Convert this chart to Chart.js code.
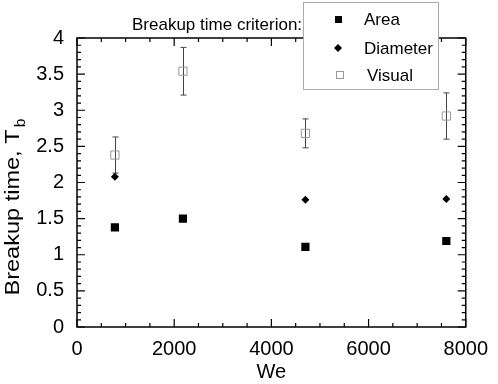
<!DOCTYPE html>
<html><head><meta charset="utf-8">
<script src="https://cdn.jsdelivr.net/npm/chart.js@4/dist/chart.umd.min.js"></script>
<style>html,body{margin:0;padding:0;background:#fff}#wrap{width:498px;height:384px}</style>
</head><body><div id="wrap"><canvas id="c" width="498" height="384"></canvas></div>
<script>
const weValues = [780, 2180, 4700, 7600];
const areaValues = [1.38, 1.50, 1.11, 1.19];
const diameterWe = [780, 4700, 7600];
const diameterValues = [2.08, 1.76, 1.77];
const visualValues = [2.38, 3.54, 2.68, 2.92];
const visualErrors = [0.25, 0.33, 0.20, 0.32];
const xTicks = [0, 2000, 4000, 6000, 8000];
const yTicks = [0, 0.5, 1, 1.5, 2, 2.5, 3, 3.5, 4];
const seriesNames = ['Area', 'Diameter', 'Visual'];
const titleText = 'Breakup time criterion:';
const FONT = '"Liberation Sans", Arial, sans-serif';

const errPlugin = {
  id: 'errbars',
  beforeDatasetsDraw(chart) {
    const ctx = chart.ctx, xs = chart.scales.x, ys = chart.scales.y;
    ctx.save();
    ctx.strokeStyle = '#444'; ctx.lineWidth = 1;
    weValues.forEach((w, i) => {
      const px = Math.round(xs.getPixelForValue(w)) + 0.5;
      const t = ys.getPixelForValue(visualValues[i] + visualErrors[i]);
      const b = ys.getPixelForValue(visualValues[i] - visualErrors[i]);
      ctx.beginPath();
      ctx.moveTo(px, t); ctx.lineTo(px, b);
      ctx.moveTo(px - 3, t); ctx.lineTo(px + 3, t);
      ctx.moveTo(px - 3, b); ctx.lineTo(px + 3, b);
      ctx.stroke();
    });
    ctx.restore();
  }
};

const framePlugin = {
  id: 'frame',
  afterDatasetsDraw(chart) {
    const ctx = chart.ctx, a = chart.chartArea, xs = chart.scales.x, ys = chart.scales.y;
    ctx.save();
    ctx.strokeStyle = '#000'; ctx.lineWidth = 1.5;
    ctx.strokeRect(a.left, a.top, a.right - a.left, a.bottom - a.top);
    ctx.lineWidth = 1.2;
    ctx.beginPath();
    for (let v = 0; v <= 8000; v += 500) {
      const p = xs.getPixelForValue(v);
      const L = (v % 2000 === 0) ? 8 : 4;
      ctx.moveTo(p, a.bottom); ctx.lineTo(p, a.bottom - L);
      ctx.moveTo(p, a.top); ctx.lineTo(p, a.top + L);
    }
    for (let k = 0; k <= 40; k++) {
      const v = k / 10;
      const p = ys.getPixelForValue(v);
      const L = (k % 5 === 0) ? 8 : 4;
      ctx.moveTo(a.left, p); ctx.lineTo(a.left + L, p);
      ctx.moveTo(a.right, p); ctx.lineTo(a.right - L, p);
    }
    ctx.stroke();

    // y axis title with subscript
    ctx.fillStyle = '#000';
    ctx.save();
    ctx.translate(18.5, 207);
    ctx.rotate(-Math.PI / 2);
    ctx.scale(1.12, 1);
    ctx.textBaseline = 'alphabetic';
    const main = 'Breakup time, T';
    ctx.font = '21px ' + FONT;
    const w1 = ctx.measureText(main).width;
    ctx.font = '14px ' + FONT;
    const w2 = ctx.measureText('b').width;
    const start = -(w1 + w2 + 2) / 2;
    ctx.font = '21px ' + FONT;
    ctx.textAlign = 'left';
    ctx.fillText(main, start, 0);
    ctx.font = '14px ' + FONT;
    ctx.fillText('b', start + w1 + 2, 6);
    ctx.restore();

    // title
    ctx.font = '17px ' + FONT;
    ctx.textAlign = 'left'; ctx.textBaseline = 'middle';
    ctx.fillText(titleText, 132, 25);

    // legend box
    ctx.fillStyle = '#fff';
    ctx.fillRect(303, 2, 136, 88);
    ctx.strokeStyle = '#aaa'; ctx.lineWidth = 1;
    ctx.strokeRect(303.5, 2.5, 135, 87);
    const rows = [19, 48, 75];
    ctx.fillStyle = '#000';
    ctx.fillRect(335, 16, 7, 7);
    ctx.beginPath();
    ctx.moveTo(338, 44); ctx.lineTo(342, 48); ctx.lineTo(338, 52); ctx.lineTo(334, 48); ctx.closePath();
    ctx.fill();
    ctx.strokeStyle = '#999'; ctx.lineWidth = 1;
    ctx.strokeRect(336.5, 71.5, 7, 7);
    ctx.fillStyle = '#000';
    ctx.font = '17px ' + FONT;
    ctx.textBaseline = 'middle';
    ctx.fillText(seriesNames[0], 364, rows[0] + 1);
    ctx.fillText(seriesNames[1], 364, rows[1] + 1);
    ctx.fillText(seriesNames[2], 367, rows[2] + 1);
    ctx.restore();
  }
};

new Chart(document.getElementById('c'), {
  type: 'scatter',
  data: {
    datasets: [
      { label: seriesNames[0], data: weValues.map((x, i) => ({x, y: areaValues[i]})), pointStyle: 'rect', pointRadius: 5.8, backgroundColor: '#000', borderColor: '#000', borderWidth: 0 },
      { label: seriesNames[1], data: diameterWe.map((x, i) => ({x, y: diameterValues[i]})), pointStyle: 'rectRot', pointRadius: 4, backgroundColor: '#000', borderColor: '#000', borderWidth: 0 },
      { label: seriesNames[2], data: weValues.map((x, i) => ({x, y: visualValues[i]})), pointStyle: 'rect', pointRadius: 5.8, backgroundColor: 'rgba(255,255,255,0)', borderColor: '#999', borderWidth: 1 }
    ]
  },
  options: {
    responsive: false, animation: false, devicePixelRatio: 1,
    layout: { padding: { top: 38, right: 25, left: 0, bottom: 0 } },
    plugins: { legend: { display: false }, tooltip: { enabled: false } },
    scales: {
      x: {
        type: 'linear', min: 0, max: 8000,
        afterBuildTicks: s => { s.ticks = xTicks.map(v => ({value: v})); },
        afterFit: s => { s.height = 57; },
        grid: { display: false, drawTicks: false },
        border: { display: false },
        ticks: { color: '#000', font: { family: FONT, size: 20 }, padding: 10, maxRotation: 0, callback: v => String(v) },
        title: { display: true, text: 'We', color: '#000', font: { family: FONT, size: 20 }, padding: { top: 3, bottom: 0 } }
      },
      y: {
        type: 'linear', min: 0, max: 4,
        afterBuildTicks: s => { s.ticks = yTicks.map(v => ({value: v})); },
        afterFit: s => { s.width = 77; },
        grid: { display: false, drawTicks: false },
        border: { display: false },
        ticks: { color: '#000', font: { family: FONT, size: 20 }, padding: 13, callback: v => String(v) }
      }
    }
  },
  plugins: [errPlugin, framePlugin]
});
</script></body></html>
